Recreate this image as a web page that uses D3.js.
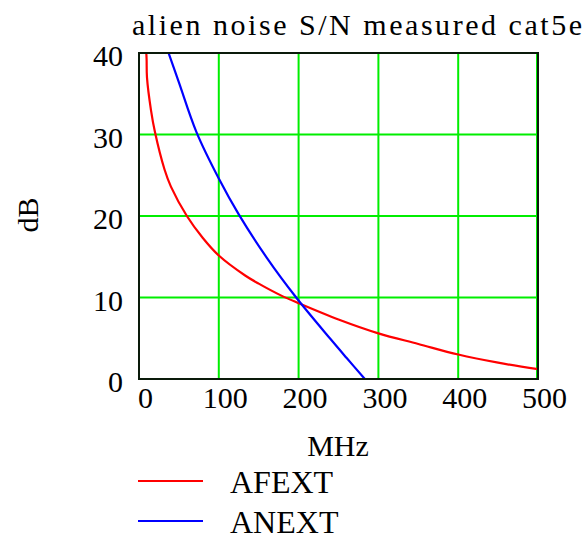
<!DOCTYPE html>
<html>
<head>
<meta charset="utf-8">
<script src="https://cdn.jsdelivr.net/npm/d3@7"></script>
<style>
  body { margin: 0; background: #fff; }
  svg { display: block; font-family: "Liberation Serif", "DejaVu Serif", serif; }
</style>
</head>
<body>
<svg width="587" height="539"></svg>
<script>
// values
let afextFreq = [8.5, 9.5, 10, 15, 20, 32, 40, 60, 80, 100, 133, 150, 179, 200, 250, 300, 350, 400, 450, 500];
let afextDb   = [41, 39.3, 37, 33, 30.3, 25.7, 23.6, 20, 17.3, 15.15, 12.7, 11.7, 10.2, 9.3, 7.3, 5.6, 4.3, 3.0, 2.0, 1.2];
let anextFreq = [36, 50, 72, 100, 125, 160, 197, 240, 260, 283];
let anextDb   = [40.3, 36.4, 30.3, 24.6, 20.2, 14.9, 10, 4.9, 2.6, 0];
let xTicks = [0, 100, 200, 300, 400, 500];
let yTicks = [0, 10, 20, 30, 40];

let svg = d3.select("svg");

let plotLeft = 139, plotRight = 538, plotTop = 53, plotBottom = 379;

let xScale = d3.scaleLinear().domain([0, 500]).range([plotLeft, plotRight]);
let yScale = d3.scaleLinear().domain([0, 40]).range([plotBottom, plotTop]);

// title
svg.append("text")
    .attr("x", 132)
    .attr("y", 35)
    .attr("font-size", "30px")
    .attr("textLength", 450)
    .attr("lengthAdjust", "spacing")
    .text("alien noise S/N measured cat5e");

// grid
svg.append("g").selectAll("line")
    .data(xTicks.slice(1, -1))
    .enter().append("line")
    .attr("x1", d => xScale(d)).attr("x2", d => xScale(d))
    .attr("y1", plotTop).attr("y2", plotBottom)
    .attr("stroke", "#00ee00").attr("stroke-width", 2);

svg.append("g").selectAll("line")
    .data(yTicks.slice(1, -1))
    .enter().append("line")
    .attr("x1", plotLeft).attr("x2", plotRight)
    .attr("y1", d => yScale(d)).attr("y2", d => yScale(d))
    .attr("stroke", "#00ee00").attr("stroke-width", 2);

// right edge green line
svg.append("line")
    .attr("x1", plotRight - 1).attr("x2", plotRight - 1)
    .attr("y1", plotTop).attr("y2", plotBottom)
    .attr("stroke", "#00ee00").attr("stroke-width", 2);

// clip
svg.append("clipPath").attr("id", "plotclip")
    .append("rect")
    .attr("x", plotLeft).attr("y", plotTop)
    .attr("width", plotRight - plotLeft).attr("height", plotBottom - plotTop);

let line = d3.line()
    .x(d => xScale(d[0]))
    .y(d => yScale(d[1]))
    .curve(d3.curveCatmullRom.alpha(0.5));

let red = afextFreq.map((f, i) => [f, afextDb[i]]);
let blue = anextFreq.map((f, i) => [f, anextDb[i]]);

let plot = svg.append("g").attr("clip-path", "url(#plotclip)");

plot.append("path")
    .datum(red)
    .attr("d", line)
    .attr("fill", "none")
    .attr("stroke", "#ff0000")
    .attr("stroke-width", 2.2);

plot.append("path")
    .datum(blue)
    .attr("d", line)
    .attr("fill", "none")
    .attr("stroke", "#0000ff")
    .attr("stroke-width", 2.2);

// frame
svg.append("rect")
    .attr("x", plotLeft).attr("y", plotTop)
    .attr("width", plotRight - plotLeft).attr("height", plotBottom - plotTop)
    .attr("fill", "none")
    .attr("stroke", "#0a1a0a")
    .attr("stroke-width", 2);

// axes, labels only
let xAxis = svg.append("g")
    .attr("transform", "translate(6," + plotBottom + ")")
    .call(d3.axisBottom(xScale).tickValues(xTicks).tickSize(0).tickPadding(8));
xAxis.select(".domain").remove();
xAxis.selectAll("text")
    .attr("font-family", "Liberation Serif")
    .attr("font-size", "30px")
    .attr("fill", "#000");

let yAxis = svg.append("g")
    .attr("transform", "translate(" + (plotLeft - 16) + ",0)")
    .call(d3.axisLeft(yScale).tickValues(yTicks).tickSize(0).tickPadding(0));
yAxis.select(".domain").remove();
yAxis.selectAll("text")
    .attr("font-family", "Liberation Serif")
    .attr("font-size", "30px")
    .attr("fill", "#000")
    .attr("dy", "0.42em");

// axis titles
svg.append("text")
    .attr("transform", "translate(38,215) rotate(-90)")
    .attr("text-anchor", "middle")
    .attr("font-size", "30px")
    .text("dB");

svg.append("text")
    .attr("x", 338)
    .attr("y", 456)
    .attr("text-anchor", "middle")
    .attr("font-size", "30px")
    .text("MHz");

// legend
let legendNames = ["AFEXT", "ANEXT"];
let legendColors = ["#ff0000", "#0000ff"];
let legendY = [481, 521];

let legend = svg.append("g").selectAll("g")
    .data(legendNames)
    .enter().append("g");

legend.append("line")
    .attr("x1", 138).attr("x2", 203)
    .attr("y1", (d, i) => legendY[i]).attr("y2", (d, i) => legendY[i])
    .attr("stroke", (d, i) => legendColors[i])
    .attr("stroke-width", 2);

legend.append("text")
    .attr("x", 230)
    .attr("y", (d, i) => legendY[i] + 12)
    .attr("font-size", "32px")
    .text(d => d);
</script>
</body>
</html>
